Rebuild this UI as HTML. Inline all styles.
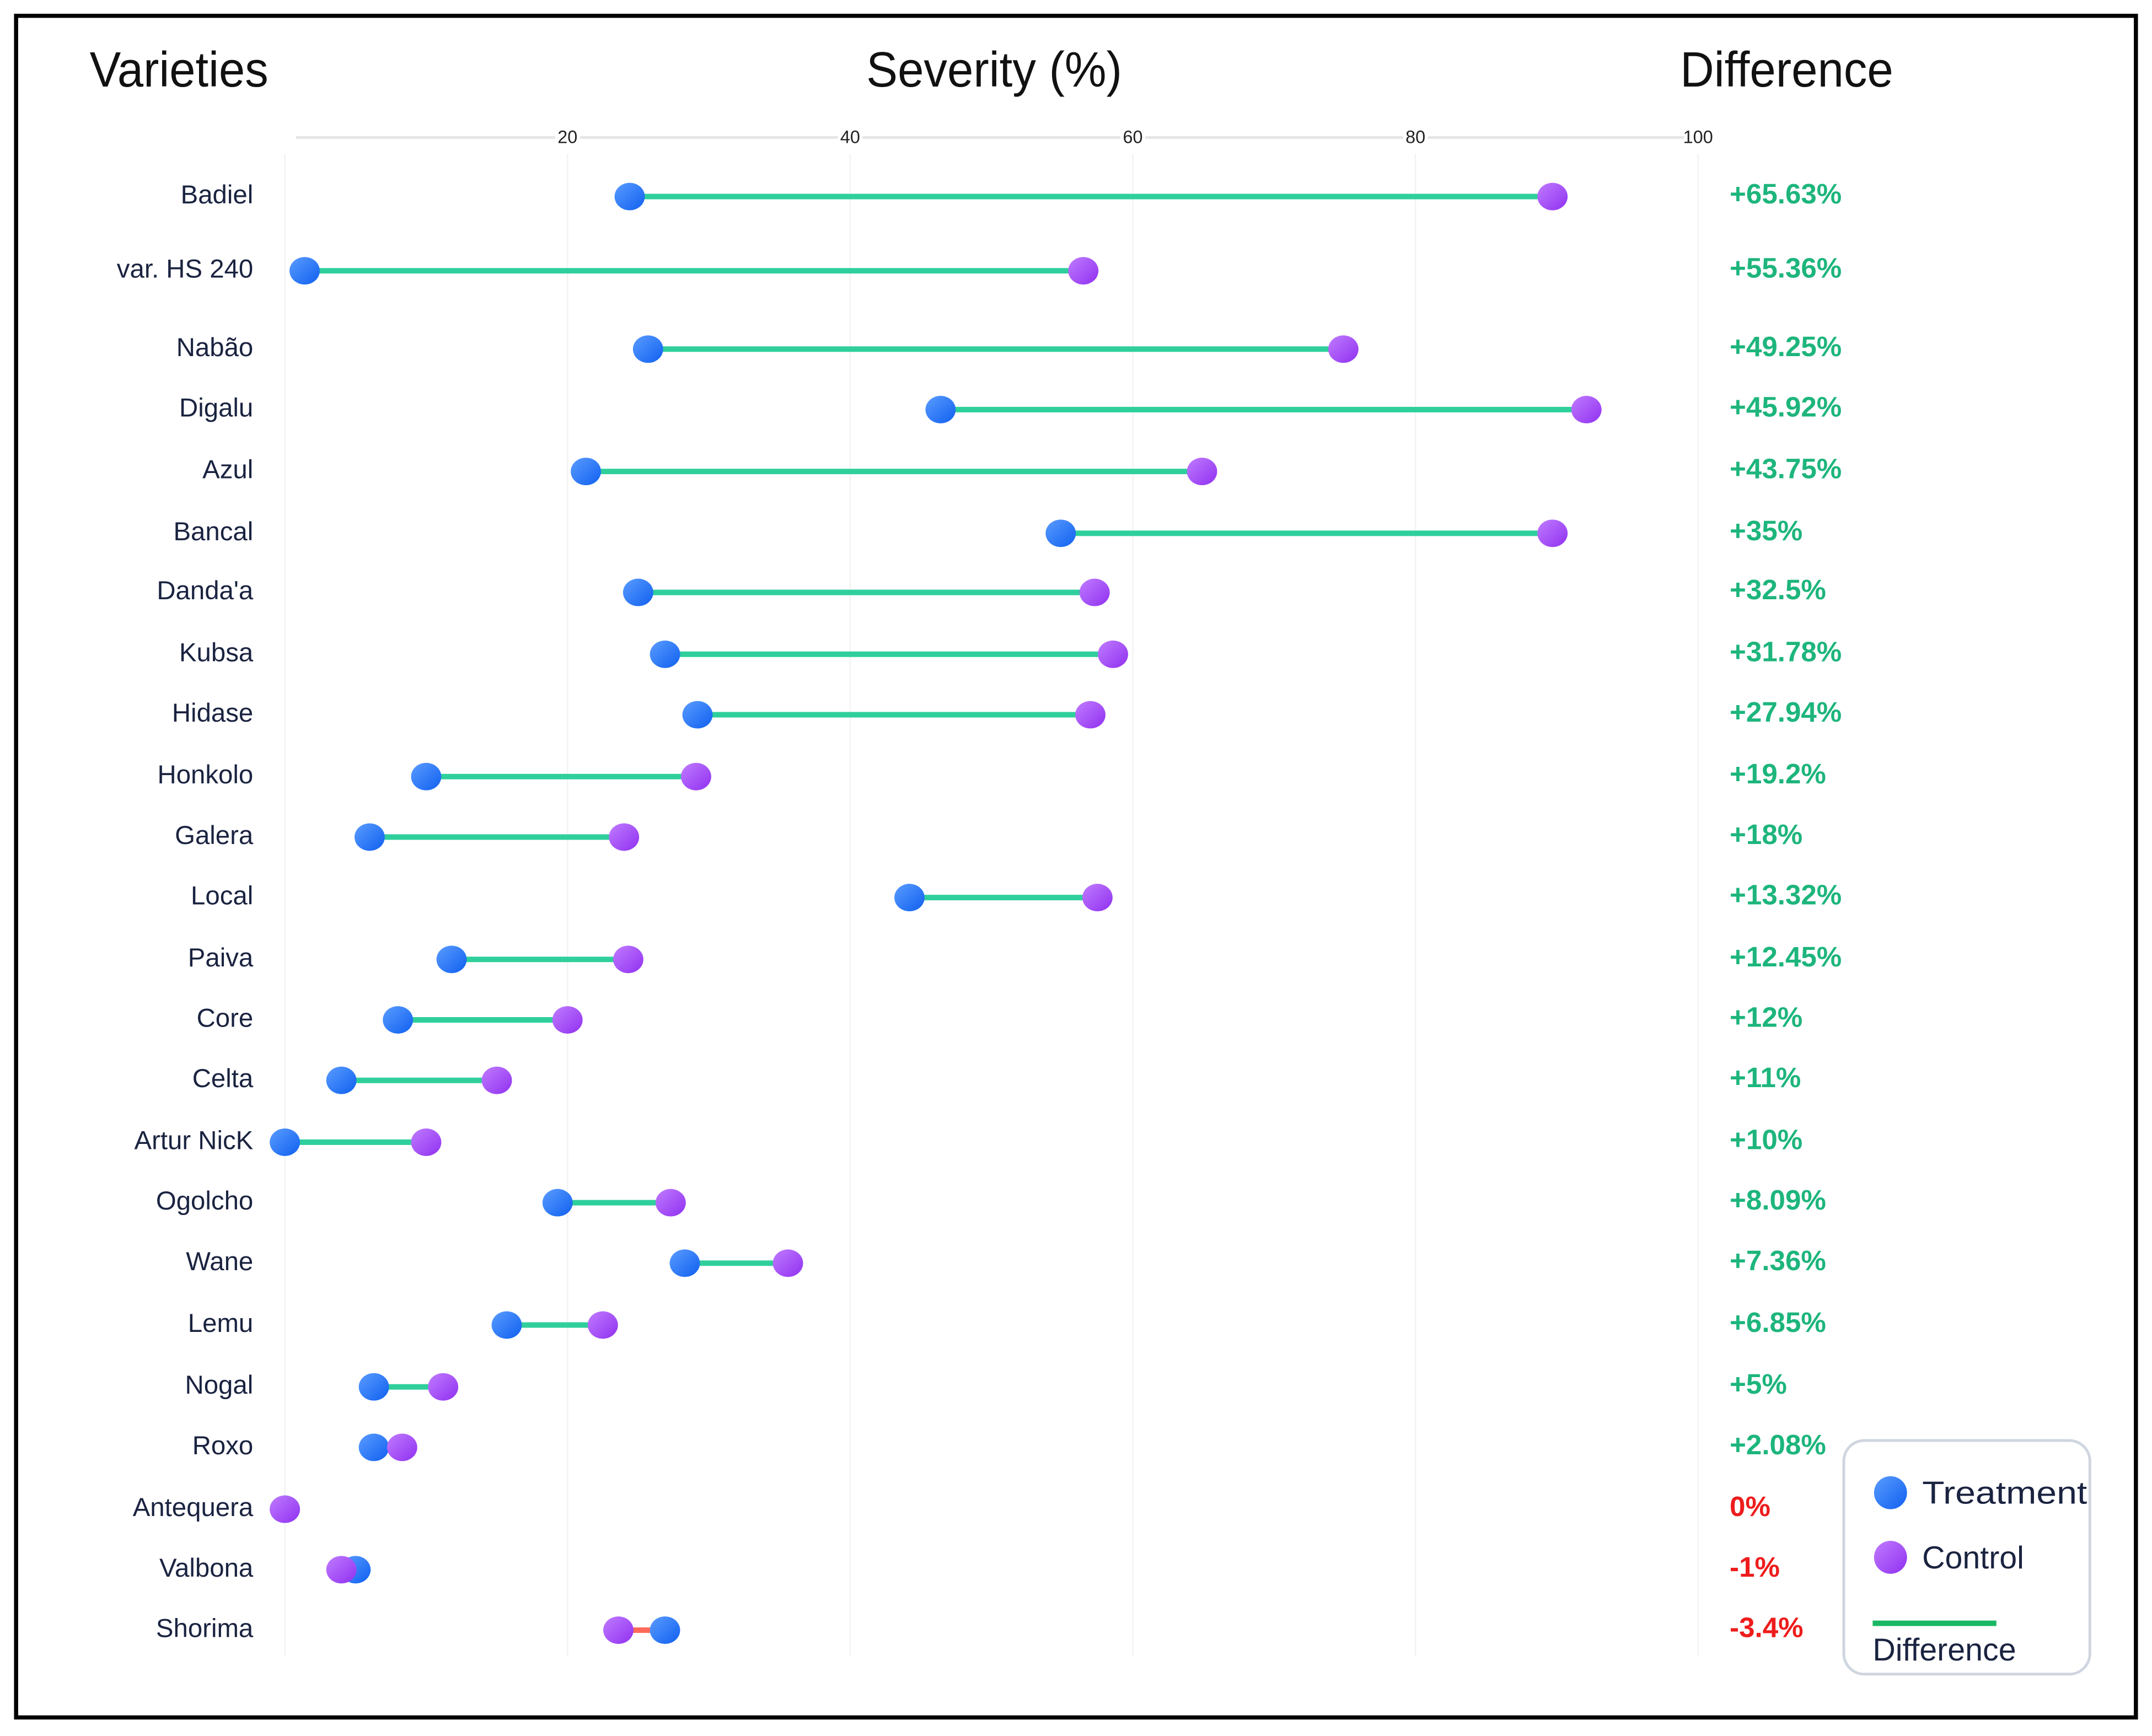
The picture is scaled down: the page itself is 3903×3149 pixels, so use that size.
<!DOCTYPE html>
<html><head><meta charset="utf-8"><style>
html,body{margin:0;padding:0;background:#fff;}
svg{display:block;}
text{font-family:"Liberation Sans",Arial,sans-serif;}
</style></head>
<body>
<svg id="chart" width="3903" height="3149" viewBox="0 0 1565 1263" xmlns="http://www.w3.org/2000/svg">
<defs>
<linearGradient id="gBlue" x1="0" y1="0" x2="1" y2="1"><stop offset="0" stop-color="#5a9cff"/><stop offset="1" stop-color="#1060f0"/></linearGradient>
<linearGradient id="gPurp" x1="0" y1="0" x2="1" y2="1"><stop offset="0" stop-color="#c07cff"/><stop offset="1" stop-color="#9030f0"/></linearGradient>
</defs>
<rect x="11.5" y="11.5" width="1542" height="1238" fill="#fff" stroke="#000" stroke-width="3"/>
<text x="65" y="63" font-size="36" fill="#111" textLength="130" lengthAdjust="spacingAndGlyphs">Varieties</text>
<text x="630" y="63" font-size="36" fill="#111" textLength="186" lengthAdjust="spacingAndGlyphs">Severity (%)</text>
<text x="1222" y="63" font-size="36" fill="#111" textLength="155" lengthAdjust="spacingAndGlyphs">Difference</text>
<g id="axis"></g>
<g id="grid"></g>
<g id="rows"></g>
<g>
<rect x="1341" y="1048" width="179" height="170" rx="15" fill="#fff" stroke="#cfd6df" stroke-width="2"/>
<circle cx="1375" cy="1086" r="12" fill="url(#gBlue)"/>
<text x="1398" y="1094" font-size="23" fill="#1a2340" textLength="120" lengthAdjust="spacingAndGlyphs">Treatment</text>
<circle cx="1375" cy="1133" r="12" fill="url(#gPurp)"/>
<text x="1398" y="1141" font-size="23" fill="#1a2340">Control</text>
<line x1="1362" y1="1181" x2="1452" y2="1181" stroke="#1ab865" stroke-width="4"/>
<text x="1362" y="1208" font-size="23" fill="#1a2340">Difference</text>
</g>
</svg>
<script>
const varieties=["Badiel","var. HS 240","Nabão","Digalu","Azul","Bancal","Danda'a","Kubsa","Hidase","Honkolo","Galera","Local","Paiva","Core","Celta","Artur NicK","Ogolcho","Wane","Lemu","Nogal","Roxo","Antequera","Valbona","Shorima"];
const treatment=[24.4,1.4,25.7,46.4,21.3,54.9,25,26.9,29.2,10,6,44.2,11.8,8,4,0,19.3,28.3,15.7,6.3,6.3,0,5,26.9];
const control=[89.7,56.5,74.9,92.1,64.9,89.7,57.3,58.6,57,29.1,24,57.5,24.3,20,15,10,27.3,35.6,22.5,11.2,8.3,0,4,23.6];
const diffLabels=["+65.63%","+55.36%","+49.25%","+45.92%","+43.75%","+35%","+32.5%","+31.78%","+27.94%","+19.2%","+18%","+13.32%","+12.45%","+12%","+11%","+10%","+8.09%","+7.36%","+6.85%","+5%","+2.08%","0%","-1%","-3.4%"];
const rowY=[143,197,254,298,343,388,431,476,520,565,609,653,698,742,786,831,875,919,964,1009,1053,1098,1142,1186];
const ticks=[20,40,60,80,100];

const NS="http://www.w3.org/2000/svg";
function xs(v){return 207+v*10.28;}
function mk(tag,attrs,parent){const e=document.createElementNS(NS,tag);for(const k in attrs)e.setAttribute(k,attrs[k]);parent.appendChild(e);return e;}
const axis=document.getElementById('axis'),grid=document.getElementById('grid'),rows=document.getElementById('rows');

const base=mk('line',{x1:215,y1:100,x2:1225,y2:100,stroke:'#e6e6e6','stroke-width':2},axis);


ticks.forEach(t=>{
  const tx=mk('text',{x:xs(t),y:104,'font-size':13,'text-anchor':'middle',fill:'#222'},axis);
  tx.textContent=t;
  
  
  const bg=mk('rect',{x:xs(t)-9,y:92,width:18,height:14,fill:'#fff'},axis);
  axis.insertBefore(bg,tx);
  
  
});
[0,20,40,60,80,100].forEach(t=>{
  const g=mk('line',{x1:xs(t),y1:112,x2:xs(t),y2:1205,stroke:'#f3f3f3','stroke-width':1},grid);
  
  
});

varieties.forEach((name,i)=>{
  const y=rowY[i];
  const lab=mk('text',{x:184,y:y+5,'font-size':19,'text-anchor':'end',fill:'#1a2340'},rows);
  lab.textContent=name;
  
  
  const neg=control[i]<treatment[i];
  const ln=mk('line',{x1:xs(treatment[i]),y1:y,x2:xs(control[i]),y2:y,stroke:neg?'#ff6a5a':'#2fcf9c','stroke-width':4},rows);
  
  
  const tr=mk('ellipse',{cx:xs(treatment[i]),cy:y,rx:11,ry:10,fill:'url(#gBlue)'},rows);
  
  
  const ct=mk('ellipse',{cx:xs(control[i]),cy:y,rx:11,ry:10,fill:'url(#gPurp)'},rows);
  
  
  const d=diffLabels[i];
  const dl=mk('text',{x:1258,y:y+5,'font-size':20.5,'font-weight':'bold',fill:d.startsWith('+')?'#1db57c':'#ee1c1c'},rows);
  dl.textContent=d;
  
  
});
</script>
</body></html>
